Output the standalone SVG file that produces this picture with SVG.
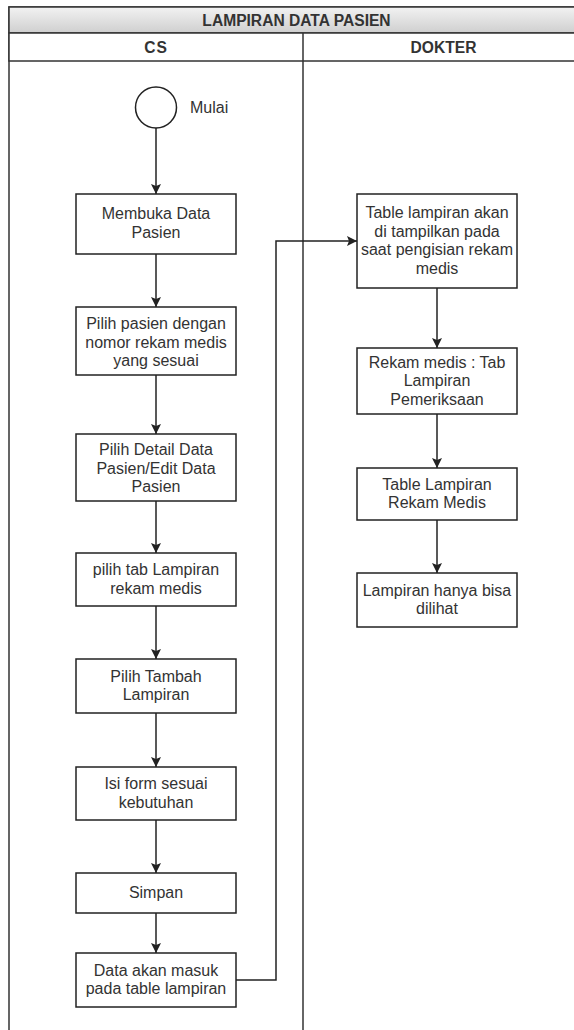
<svg xmlns="http://www.w3.org/2000/svg" width="574" height="1030" viewBox="0 0 574 1030">
<style>
.t{font-family:"Liberation Sans",Arial,sans-serif;font-size:16px;fill:#333;text-anchor:middle}
.h{font-family:"Liberation Sans",Arial,sans-serif;font-size:15.6px;font-weight:bold;fill:#333;text-anchor:middle}
.b{fill:#fff;stroke:#222;stroke-width:1.5}
.c{fill:none;stroke:#222;stroke-width:1.5}
</style>
<defs>
<linearGradient id="g" x1="0" y1="0" x2="0" y2="1">
<stop offset="0" stop-color="#f2f2f2"/>
<stop offset="1" stop-color="#cfcfcf"/>
</linearGradient>
<marker id="a" markerWidth="12" markerHeight="12" viewBox="0 0 12 12" refX="11" refY="6" orient="auto" markerUnits="userSpaceOnUse">
<path d="M1,1 L11,6 L1,11 L3,6 Z" fill="#222"/>
</marker>
</defs>
<g id="pool">
<rect x="9" y="7" width="575" height="1040" fill="#fff" stroke="#333" stroke-width="1.5"/>
<rect x="9" y="7" width="575" height="26" fill="url(#g)" stroke="#333" stroke-width="1.5"/>
<text class="h" x="296.5" y="25.5">LAMPIRAN DATA PASIEN</text>
<rect x="9" y="33" width="575" height="28" fill="#fff" stroke="#333" stroke-width="1.5"/>
<line x1="303" y1="33" x2="303" y2="1047" stroke="#333" stroke-width="1.5"/>
<text class="h" x="156" y="52.5" letter-spacing="1">CS</text>
<text class="h" x="443.5" y="52.5">DOKTER</text>
</g>
<g id="connectors">
<path class="c" d="M156,128 V194" marker-end="url(#a)"/>
<path class="c" d="M156,254 V307" marker-end="url(#a)"/>
<path class="c" d="M156,375 V434" marker-end="url(#a)"/>
<path class="c" d="M156,501 V553" marker-end="url(#a)"/>
<path class="c" d="M156,606 V659" marker-end="url(#a)"/>
<path class="c" d="M156,713 V767" marker-end="url(#a)"/>
<path class="c" d="M156,820 V873" marker-end="url(#a)"/>
<path class="c" d="M156,913 V953" marker-end="url(#a)"/>
<path class="c" d="M236,980 H276 V241 H357" marker-end="url(#a)"/>
<path class="c" d="M437,288 V348" marker-end="url(#a)"/>
<path class="c" d="M437,414 V468" marker-end="url(#a)"/>
<path class="c" d="M437,520 V573" marker-end="url(#a)"/>
</g>
<g id="start">
<circle class="b" cx="156" cy="107.5" r="20.5"/>
<text class="t" x="190" y="113" style="text-anchor:start">Mulai</text>
</g>
<g id="n1"><rect class="b" x="76" y="194" width="160" height="60"/>
<text class="t" x="156" y="219"><tspan x="156">Membuka Data</tspan><tspan x="156" dy="18.5">Pasien</tspan></text></g>
<g id="n2"><rect class="b" x="76" y="307" width="160" height="68"/>
<text class="t" x="156" y="329"><tspan x="156">Pilih pasien dengan</tspan><tspan x="156" dy="18.5">nomor rekam medis</tspan><tspan x="156" dy="18.5">yang sesuai</tspan></text></g>
<g id="n3"><rect class="b" x="76" y="434" width="160" height="67"/>
<text class="t" x="156" y="455"><tspan x="156">Pilih Detail Data</tspan><tspan x="156" dy="18.5">Pasien/Edit Data</tspan><tspan x="156" dy="18.5">Pasien</tspan></text></g>
<g id="n4"><rect class="b" x="76" y="553" width="160" height="53"/>
<text class="t" x="156" y="575"><tspan x="156">pilih tab Lampiran</tspan><tspan x="156" dy="18.5">rekam medis</tspan></text></g>
<g id="n5"><rect class="b" x="76" y="659" width="160" height="54"/>
<text class="t" x="156" y="681.5"><tspan x="156">Pilih Tambah</tspan><tspan x="156" dy="18.5">Lampiran</tspan></text></g>
<g id="n6"><rect class="b" x="76" y="767" width="160" height="53"/>
<text class="t" x="156" y="789"><tspan x="156">Isi form sesuai</tspan><tspan x="156" dy="18.5">kebutuhan</tspan></text></g>
<g id="n7"><rect class="b" x="76" y="873" width="160" height="40"/>
<text class="t" x="156" y="898">Simpan</text></g>
<g id="n8"><rect class="b" x="76" y="953" width="160" height="54"/>
<text class="t" x="156" y="975.5"><tspan x="156">Data akan masuk</tspan><tspan x="156" dy="18.5">pada table lampiran</tspan></text></g>
<g id="r1"><rect class="b" x="357" y="194" width="160" height="94"/>
<text class="t" x="437" y="218"><tspan x="437">Table lampiran akan</tspan><tspan x="437" dy="18.5">di tampilkan pada</tspan><tspan x="437" dy="18.5">saat pengisian rekam</tspan><tspan x="437" dy="18.5">medis</tspan></text></g>
<g id="r2"><rect class="b" x="357" y="348" width="160" height="66"/>
<text class="t" x="437" y="367.5"><tspan x="437">Rekam medis : Tab</tspan><tspan x="437" dy="18.5">Lampiran</tspan><tspan x="437" dy="18.5">Pemeriksaan</tspan></text></g>
<g id="r3"><rect class="b" x="357" y="468" width="160" height="52"/>
<text class="t" x="437" y="489.5"><tspan x="437">Table Lampiran</tspan><tspan x="437" dy="18.5">Rekam Medis</tspan></text></g>
<g id="r4"><rect class="b" x="357" y="573" width="160" height="54"/>
<text class="t" x="437" y="595.5"><tspan x="437">Lampiran hanya bisa</tspan><tspan x="437" dy="18.5">dilihat</tspan></text></g>
</svg>
